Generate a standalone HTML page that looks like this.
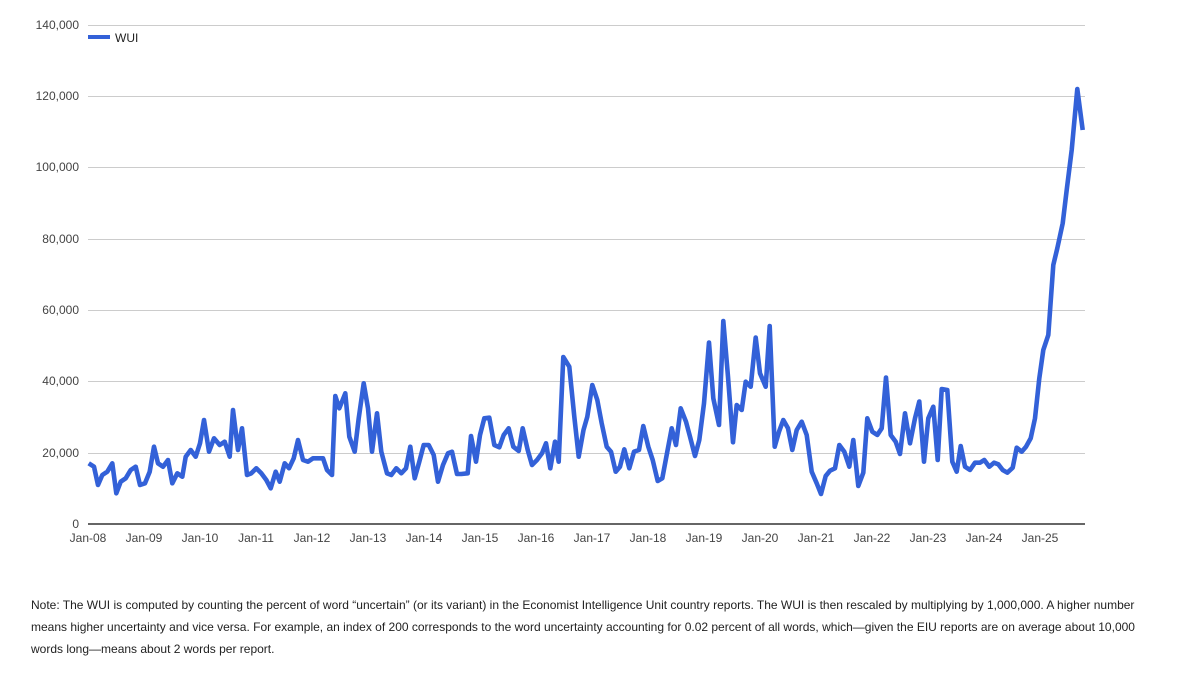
<!DOCTYPE html>
<html>
<head>
<meta charset="utf-8">
<style>
html,body{margin:0;padding:0;background:#fff;}
body{width:1187px;height:687px;overflow:hidden;}
svg{display:block;}
text{font-family:"Liberation Sans",Arial,sans-serif;}
</style>
</head>
<body>
<svg width="1187" height="687" viewBox="0 0 1187 687" xmlns="http://www.w3.org/2000/svg">
<rect width="1187" height="687" fill="#fff"/>
<g stroke="#cccccc" stroke-width="1">
<line x1="88" y1="25.5" x2="1085" y2="25.5"/>
<line x1="88" y1="96.5" x2="1085" y2="96.5"/>
<line x1="88" y1="167.5" x2="1085" y2="167.5"/>
<line x1="88" y1="239.5" x2="1085" y2="239.5"/>
<line x1="88" y1="310.5" x2="1085" y2="310.5"/>
<line x1="88" y1="381.5" x2="1085" y2="381.5"/>
<line x1="88" y1="453.5" x2="1085" y2="453.5"/>
</g>
<line x1="88" y1="524" x2="1085" y2="524" stroke="#333" stroke-width="1.5"/>
<g font-size="12" fill="#444" text-anchor="end">
<text x="79" y="29">140,000</text>
<text x="79" y="100">120,000</text>
<text x="79" y="171">100,000</text>
<text x="79" y="243">80,000</text>
<text x="79" y="314">60,000</text>
<text x="79" y="385">40,000</text>
<text x="79" y="457">20,000</text>
<text x="79" y="528">0</text>
</g>
<g font-size="12" fill="#444" text-anchor="middle">
<text x="88" y="542">Jan-08</text>
<text x="144" y="542">Jan-09</text>
<text x="200" y="542">Jan-10</text>
<text x="256" y="542">Jan-11</text>
<text x="312" y="542">Jan-12</text>
<text x="368" y="542">Jan-13</text>
<text x="424" y="542">Jan-14</text>
<text x="480" y="542">Jan-15</text>
<text x="536" y="542">Jan-16</text>
<text x="592" y="542">Jan-17</text>
<text x="648" y="542">Jan-18</text>
<text x="704" y="542">Jan-19</text>
<text x="760" y="542">Jan-20</text>
<text x="816" y="542">Jan-21</text>
<text x="872" y="542">Jan-22</text>
<text x="928" y="542">Jan-23</text>
<text x="984" y="542">Jan-24</text>
<text x="1040" y="542">Jan-25</text>
</g>
<line x1="88" y1="37" x2="110" y2="37" stroke="#3361d8" stroke-width="4"/>
<text x="115" y="42" font-size="12" fill="#222">WUI</text>
<polyline fill="none" stroke="#3361d8" stroke-width="4.6" stroke-linejoin="round" stroke-linecap="butt" points="
88.7,463.3 94,466.7 98,485 102.3,475 107.3,471.7 112.3,463.3 116.3,493.3 120.7,481.7 125.7,478.3 130.7,470 135.7,466.7 140,485 145,483.3 149.7,471.7 154,446.7 158,463.3 163,466.7 168,460 172.3,483.3 177.3,473.3 182.3,476.7 185.7,456.7 190.7,450 195.7,456.7 200,443.3 204,420 209,451.7 214,438.3 219.7,445 224.7,441.7 229.7,456.7 233,410 238,450 242,428.3 247,475 251.3,473.3 256.3,468.3 261.3,473.3 266.3,480 270.7,488.3 275.7,471.7 279.7,481.7 284.7,463.3 289,468.3 293.7,458.3 298,440 303,460 308,461.7 313,458.3 318,458.3 323,458.3 327,470 332,475 335.3,396 339.3,408.3 345.3,393.3 349.3,436.7 354.7,451.7 358.7,418.3 363.7,383.3 368,408.3 372,451.7 377,413.3 381.3,451.7 387,473.3 391.3,475 396.3,468.3 401.3,473.3 406,468.3 410.3,446.7 414.7,478.3 419.3,461.7 423.7,445 428.7,445 433.7,455 438,481.7 443,465 448,453.3 452,451.7 457,474 461.3,474 467.7,473.3 471,436 476,461.7 480,435 484.3,418.3 489.3,417.7 494.3,445 499.3,447.3 503.7,435 508.7,428.3 513.3,446.7 518.7,451 522.7,428.3 527.7,450 532,465 537,460 542,453.3 546,443.3 550.3,468.3 555,441.7 558.7,461.7 563.3,357 569.3,366.7 574.3,416.7 578.7,456.7 583.5,430 587.3,416.7 592.3,385 597.3,400 601.7,423.3 606.7,446.7 611,451.7 615.7,471.7 620,466.7 624.3,449.3 629.3,468.3 634,451.7 639,450 643.3,426 648.3,446.7 652.7,460 657.7,481 662.3,478.3 667.3,451.7 671.7,428.3 676,445 680.7,408.3 686,421.7 690,436.7 695,456 699.3,440 704,403.3 709,342.5 713.3,398.3 719,425 723.3,321 728,376.7 733,442.3 736.7,405 741.7,410 745.7,381.7 750.7,386.7 755.7,337.5 760,373.3 765.7,386.7 769.7,326 774.7,446.7 779,431.7 783.3,420 788,428.3 792.3,450 796.7,430 801.7,421.7 806.7,435 811.7,471.7 816.7,483.3 821,494 825.7,476 830,470.7 835,468.3 839.3,445 844.3,451.7 849.3,466.7 853.3,440 858.3,486 863.3,472.7 867.3,418.3 872.3,431.7 877.3,435 881.7,428.3 886,377.5 890.7,435 895.7,441.7 900,454 905,413.3 910,443.3 915,418.3 919.3,401.5 924,461.7 928.3,418.3 933.3,406.7 937.7,460 941.7,389 947.3,390 952.3,461.7 956.7,471.7 960.7,446 965,466.7 970,470 975,462.7 980,462.7 984.3,460 989.3,466.7 994,462.7 998.3,464.3 1002.7,470 1007.3,472.7 1012.7,467.7 1016.7,447.7 1021.7,451.7 1026,446.7 1030.7,438.3 1035,418.3 1039.3,378.3 1043.3,350 1048.3,335 1053.3,265 1057.3,248.3 1062.7,223.3 1066.7,190 1071.7,150 1077.3,89 1082.7,130"/>
<g font-size="12" fill="#222">
<text x="31" y="609">Note: The WUI is computed by counting the percent of word “uncertain” (or its variant) in the Economist Intelligence Unit country reports. The WUI is then rescaled by multiplying by 1,000,000. A higher number</text>
<text x="31" y="631">means higher uncertainty and vice versa. For example, an index of 200 corresponds to the word uncertainty accounting for 0.02 percent of all words, which—given the EIU reports are on average about 10,000</text>
<text x="31" y="653">words long—means about 2 words per report.</text>
</g>
</svg>
</body>
</html>
